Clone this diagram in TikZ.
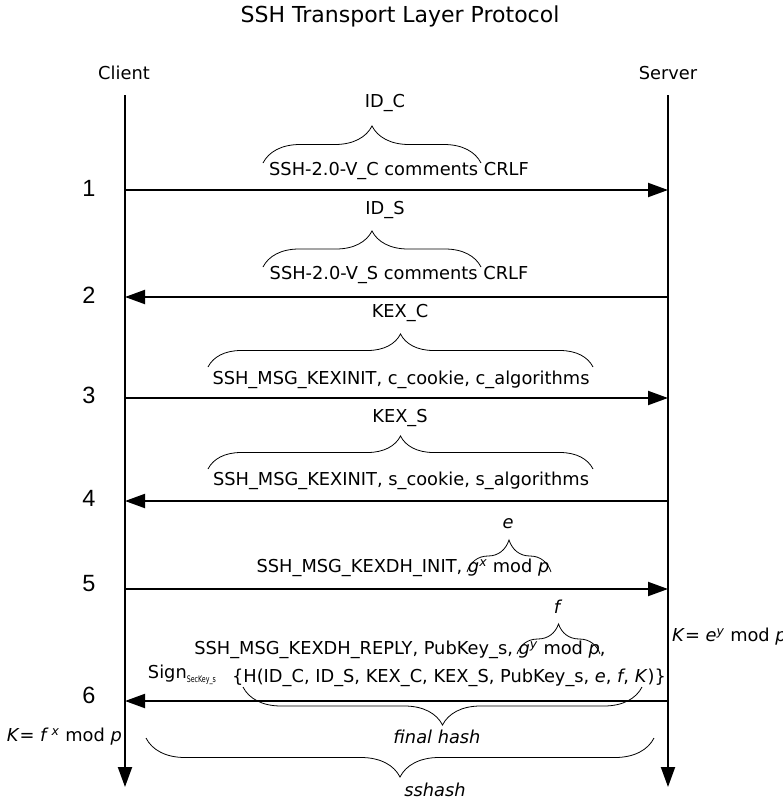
\documentclass[tikz,border=0pt]{standalone}
\usepackage{fontspec}
\setmainfont{DejaVu Sans}
\newfontfamily\numfont{Liberation Sans}
\usetikzlibrary{decorations.pathreplacing,arrows.meta}

\begin{document}
\begin{tikzpicture}[x=1pt,y=-1pt,
  lifeline/.style={line width=2pt,-{Triangle[length=20pt,width=14pt]}},
  msg/.style={line width=2pt,-{Triangle[length=20pt,width=14pt]}},
  lbl/.style={inner sep=0pt,font=\fontsize{17.8}{20}\selectfont},
  actor/.style={inner sep=0pt,font=\fontsize{17.8}{20}\selectfont},
  stepno/.style={inner sep=0pt,font=\numfont\fontsize{23.5}{26}\selectfont},
  brc/.style={line width=0.8pt,decorate,decoration={brace,amplitude=#1}},
  brc/.default=34pt]
\useasboundingbox (0,0) rectangle (783,803);

% title and actors
\node[inner sep=0pt,font=\fontsize{22}{26}\selectfont] (title) at (400,16) {SSH Transport Layer Protocol};
\node[actor] (client) at (124,73) {Client};
\node[actor] (server) at (668,73) {Server};

% lifelines
\coordinate (ctop) at (125,95);
\coordinate (cbot) at (125,787);
\coordinate (stop) at (668,95);
\coordinate (sbot) at (668,787);
\draw[lifeline] (ctop) -- (cbot);
\draw[lifeline] (stop) -- (sbot);

% message rows
\foreach \i/\y in {1/190,2/297,3/398,4/501,5/589,6/701}{
  \coordinate (c\i) at (125,\y);
  \coordinate (s\i) at (668,\y);
}
\draw[msg] (c1) -- (s1);
\draw[msg] (s2) -- (c2);
\draw[msg] (c3) -- (s3);
\draw[msg] (s4) -- (c4);
\draw[msg] (c5) -- (s5);
\draw[msg] (s6) -- (c6);

% step numbers
\node[stepno] (n1) at (89,188) {1};
\node[stepno] (n2) at (89,295) {2};
\node[stepno] (n3) at (89,395) {3};
\node[stepno] (n4) at (89,498) {4};
\node[stepno] (n5) at (89,584) {5};
\node[stepno] (n6) at (89,695) {6};

% 1: client identification
\node[lbl] (idc) at (385,103) {ID\_C};
\draw[brc=37pt] (263,163) -- (481,163);
\node[lbl] (m1) at (399,171) {SSH-2.0-V\_C comments CRLF};

% 2: server identification
\node[lbl] (ids) at (385,210) {ID\_S};
\draw[brc=36pt] (263,267) -- (481,267);
\node[lbl] (m2) at (399,275) {SSH-2.0-V\_S comments CRLF};

% 3: client KEXINIT
\node[lbl] (kexc) at (400,313) {KEX\_C};
\draw[brc=33pt] (208,367) -- (593,367);
\node[lbl] (m3) at (401,380) {SSH\_MSG\_KEXINIT, c\_cookie, c\_algorithms};

% 4: server KEXINIT
\node[lbl] (kexs) at (400,418) {KEX\_S};
\draw[brc=33pt] (208,469) -- (593,469);
\node[lbl] (m4) at (401,481) {SSH\_MSG\_KEXINIT, s\_cookie, s\_algorithms};

% 5: KEXDH_INIT
\node[lbl] (e) at (508,524) {\textit{e}};
\draw[brc=32pt] (467,572) -- (551,572);
\node[lbl] (m5) at (403,568) {SSH\_MSG\_KEXDH\_INIT, \textit{g}\textsuperscript{\textit{x}} mod \textit{p}};

% 6: KEXDH_REPLY
\node[lbl] (f) at (558,607) {\textit{f}};
\draw[brc=30pt] (517,654) -- (600,654);
\node[lbl] (m6a) at (400,650) {SSH\_MSG\_KEXDH\_REPLY, PubKey\_s, \textit{g}\textsuperscript{\textit{y}} mod \textit{p},};
\node[lbl] (sign) at (182,675) {Sign\raisebox{-0.45ex}{\fontsize{9}{10}\selectfont\addfontfeature{FakeStretch=0.7}SecKey\_s}};
\node[lbl] (m6b) at (449,678) {\{H(ID\_C, ID\_S, KEX\_C, KEX\_S, PubKey\_s, \textit{e}, \textit{f}, \textit{K})\}};

% hashes
\draw[brc=38pt] (642,687) -- (243,687);
\node[lbl] (fh) at (437,737) {\textit{final hash}};
\draw[brc=39pt] (654,738) -- (146,738);
\node[lbl] (ssh) at (435,790) {\textit{sshash}};

% shared secrets
\node[lbl,anchor=west] (ks) at (672,637) {\textit{K}= \textit{e}\textsuperscript{\textit{y}} mod \textit{p}};
\node[lbl,anchor=east] (kc) at (122,737) {\textit{K}= \textit{f}\,\textsuperscript{\textit{x}} mod \textit{p}};
\end{tikzpicture}
\end{document}
